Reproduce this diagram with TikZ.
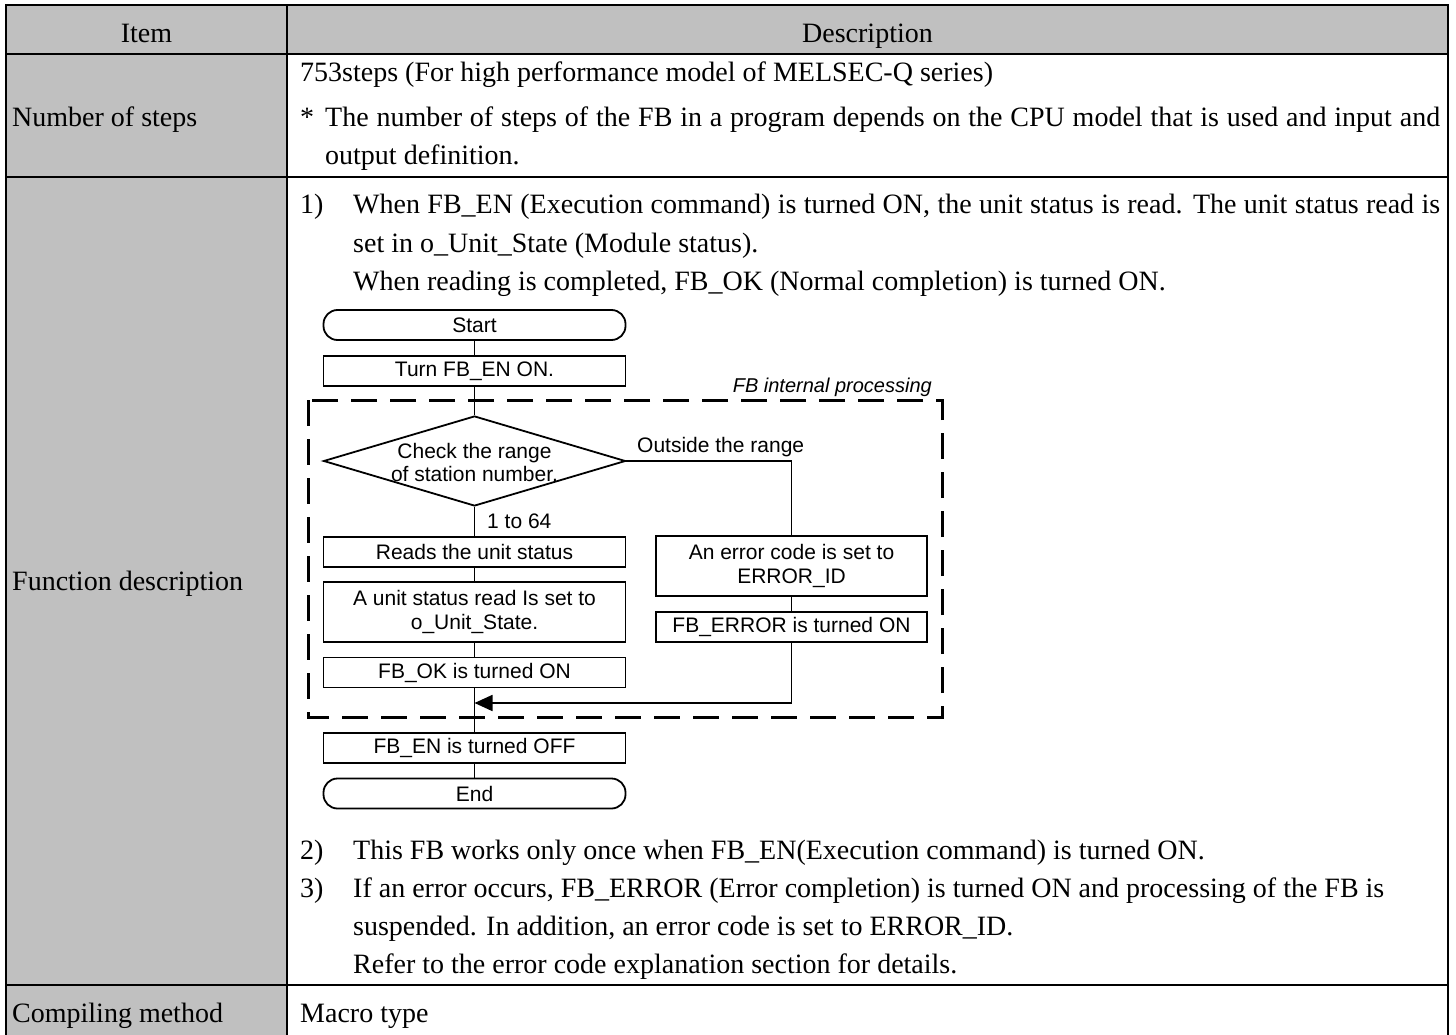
\documentclass[tikz,border=0pt]{standalone}
\usepackage{fontspec}
\setmainfont{Liberation Serif}
\newfontfamily\arialf{Liberation Sans}
\usetikzlibrary{shapes.geometric,arrows.meta}
\definecolor{hdrgray}{HTML}{C0C0C0}
\begin{document}
\begin{tikzpicture}[x=1pt,y=-1pt,
  body/.style={anchor=base west,inner sep=0,font=\fontsize{28}{38}\selectfont},
  bodyc/.style={body,anchor=base},
  flow/.style={draw,line width=1.8pt,minimum width=302pt,inner sep=0,font=\arialf\fontsize{21}{24}\selectfont,align=center},
  box1/.style={flow,minimum height=30pt},
  term/.style={box1,rounded corners=14pt},
  conn/.style={line width=1.8pt},
  flabel/.style={anchor=base west,inner sep=0,font=\arialf\fontsize{21}{24}\selectfont},
  gridl/.style={line width=2.6pt}]
\useasboundingbox (0,0) rectangle (1456,1035);
% table background
\fill[hdrgray] (6,5) rectangle (1448,54);
\fill[hdrgray] (6,54) rectangle (287,1040);
\draw[gridl] (6,1040) -- (6,5) -- (1448,5) -- (1448,1040);
\draw[gridl] (6,54) -- (1448,54);
\draw[gridl] (6,177) -- (1448,177);
\draw[gridl] (6,985) -- (1448,985);
\draw[gridl] (287,5) -- (287,1040);
% header
\node[bodyc] (hitem) at (146.5,43) {Item};
\node[bodyc] (hdesc) at (867.5,43) {Description};
% row: number of steps
\node[body] (nsteps) at (12,127) {Number of steps};
\node[body] (s1) at (300,82) {753steps (For high performance model of MELSEC-Q series)};
\node[body] (s2a) at (300,127) {*};
\node[body] (s2) at (325,127) {\makebox[1115pt][s]{The number of steps of the FB in a program depends on the CPU model that is used and input and}};
\node[body] (s3) at (325,165) {output definition.};
% row: function description
\node[body] (fdesc) at (12,590) {Function description};
\node[body] (n1) at (300,214) {1)};
\node[body] (f1) at (353,214) {\makebox[1087pt][s]{When FB\_EN (Execution command) is turned ON, the unit status is read. The unit status read is}};
\node[body] (f2) at (353,252) {set in o\_Unit\_State (Module status).};
\node[body] (f3) at (353,290) {When reading is completed, FB\_OK (Normal completion) is turned ON.};
\node[body] (n2) at (300,859) {2)};
\node[body] (f4) at (353,859) {This FB works only once when FB\_EN(Execution command) is turned ON.};
\node[body] (n3) at (300,897) {3)};
\node[body] (f5) at (353,897) {If an error occurs, FB\_ERROR (Error completion) is turned ON and processing of the FB is};
\node[body] (f6) at (353,935) {suspended. In addition, an error code is set to ERROR\_ID.};
\node[body] (f7) at (353,973) {Refer to the error code explanation section for details.};
% row: compiling method
\node[body] (cm) at (12,1022) {Compiling method};
\node[body] (mt) at (300,1022) {Macro type};
% flowchart
\draw[line width=3pt,dash pattern=on 26pt off 13pt] (308,400) rectangle (942,717);
\node[anchor=base east,inner sep=0,font=\arialf\itshape\fontsize{20}{24}\selectfont] (fbip) at (932,392) {FB internal processing};
\node[term] (start) at (474.5,325) {Start};
\node[box1] (turn) at (474.5,371) {Turn FB\_EN ON.};
\node[draw,diamond,line width=1.8pt,minimum width=302pt,minimum height=90pt,inner sep=0] (dec) at (474.5,461) {};
\node[align=center,inner sep=0,font=\arialf\fontsize{21}{23}\selectfont] (dectext) at (474.5,462) {Check the range\\of station number.};
\node[box1] (reads) at (474.5,552) {Reads the unit status};
\node[flow,minimum height=60pt] (aunit) at (474.5,612) {A unit status read Is set to\\o\_Unit\_State.};
\node[box1] (fbok) at (474.5,672.5) {FB\_OK is turned ON};
\node[box1] (fboff) at (474.5,748) {FB\_EN is turned OFF};
\node[term] (end) at (474.5,793.5) {End};
\node[flow,minimum width=271pt,minimum height=60pt] (err) at (791.5,566) {An error code is set to\\ERROR\_ID};
\node[flow,minimum width=271pt,minimum height=30pt] (fberr) at (791.5,627) {FB\_ERROR is turned ON};
\coordinate (merge) at (474.5,703);
\node[flabel] (outl) at (637,452) {Outside the range};
\node[flabel] (range) at (487,528) {1 to 64};
\draw[conn] (start) -- (turn);
\draw[conn] (turn) -- (dec.north);
\draw[conn] (dec.south) -- (reads);
\draw[conn] (reads) -- (aunit);
\draw[conn] (aunit) -- (fbok);
\draw[conn] (fbok) -- (fboff);
\draw[conn] (fboff) -- (end);
\draw[conn] (dec.east) -| (err.north);
\draw[conn] (err) -- (fberr);
\draw[conn,-{Triangle[length=18pt,width=16pt]}] (fberr.south) |- (merge);
\end{tikzpicture}
\end{document}
